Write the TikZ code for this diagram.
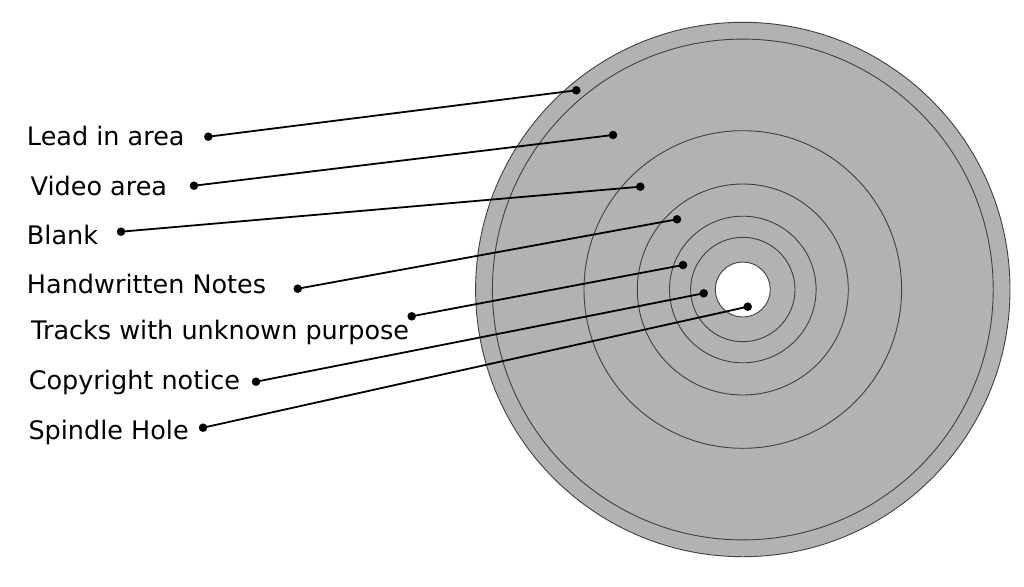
\documentclass[tikz,border=0pt]{standalone}
\usepackage{fontspec}
\setmainfont{DejaVu Sans}
\begin{document}
\begin{tikzpicture}[x=1pt,y=-1pt,
  ring/.style={draw=black!75, line width=0.9pt},
  lead/.style={line width=1.8pt},
  lbl/.style={anchor=base west, inner sep=0pt, font=\fontsize{25.5}{30}\selectfont}]
\useasboundingbox (0,0) rectangle (1024,586);
\coordinate (c) at (742.8,289.5);
\filldraw[ring, fill=black!30] (c) circle[radius=267.2];
\draw[ring] (c) circle[radius=250.4];
\draw[ring] (c) circle[radius=158.8];
\draw[ring] (c) circle[radius=105.5];
\draw[ring] (c) circle[radius=73.3];
\draw[ring] (c) circle[radius=52.2];
\filldraw[ring, fill=white] (c) circle[radius=27.5];
\node[lbl] (leadin) at (26.8,145.7) {Lead in area};
\node[lbl] (video) at (30.5,195) {Video area};
\node[lbl] (blank) at (26.8,244.3) {Blank};
\node[lbl] (notes) at (26.8,293.3) {Handwritten Notes};
\node[lbl] (tracks) at (31,339) {Tracks with unknown purpose};
\node[lbl] (copyright) at (28.6,389) {Copyright notice};
\node[lbl] (spindle) at (28.3,439) {Spindle Hole};
\coordinate (leadin-a) at (208.3,136.7);
\coordinate (leadin-b) at (576.3,90.3);
\coordinate (video-a) at (194,185.7);
\coordinate (video-b) at (613,135);
\coordinate (blank-a) at (121,231.7);
\coordinate (blank-b) at (640.3,186.7);
\coordinate (notes-a) at (297.7,288.7);
\coordinate (notes-b) at (677,219.3);
\coordinate (tracks-a) at (411.7,316.3);
\coordinate (tracks-b) at (683,265);
\coordinate (copyright-a) at (256,381.7);
\coordinate (copyright-b) at (703.7,293.3);
\coordinate (spindle-a) at (203,427.7);
\coordinate (spindle-b) at (747.7,306.7);
\draw[lead] (leadin-a)--(leadin-b);
\draw[lead] (video-a)--(video-b);
\draw[lead] (blank-a)--(blank-b);
\draw[lead] (notes-a)--(notes-b);
\draw[lead] (tracks-a)--(tracks-b);
\draw[lead] (copyright-a)--(copyright-b);
\draw[lead] (spindle-a)--(spindle-b);
\filldraw (leadin-a) circle[radius=4]; \filldraw (leadin-b) circle[radius=4];
\filldraw (video-a) circle[radius=4]; \filldraw (video-b) circle[radius=4];
\filldraw (blank-a) circle[radius=4]; \filldraw (blank-b) circle[radius=4];
\filldraw (notes-a) circle[radius=4]; \filldraw (notes-b) circle[radius=4];
\filldraw (tracks-a) circle[radius=4]; \filldraw (tracks-b) circle[radius=4];
\filldraw (copyright-a) circle[radius=4]; \filldraw (copyright-b) circle[radius=4];
\filldraw (spindle-a) circle[radius=4]; \filldraw (spindle-b) circle[radius=4];
\end{tikzpicture}
\end{document}
